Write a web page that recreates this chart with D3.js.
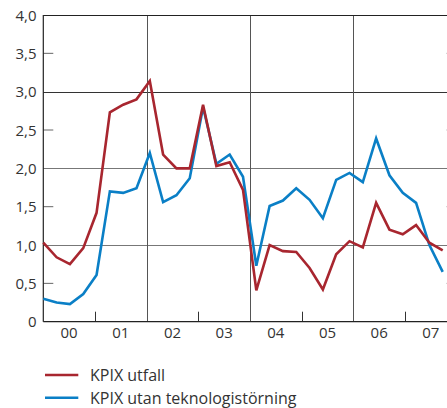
<!DOCTYPE html>
<html><head><meta charset="utf-8">
<script src="https://cdn.jsdelivr.net/npm/d3@7"></script>
<style>
html,body{margin:0;padding:0;background:#fff;}
svg{display:block;}
text{font-family:"Open Sans",sans-serif;fill:#333;}
</style></head>
<body>
<script>
const quarters = [];
for (let y = 2000; y <= 2007; y++) for (let q = 1; q <= 4; q++) if (quarters.length < 31) quarters.push(y + "Q" + q);
const years = ["00","01","02","03","04","05","06","07"];
const yTicks = [0,0.5,1,1.5,2,2.5,3,3.5,4];
const kpixUtfall = [1.03,0.84,0.75,0.96,1.42,2.73,2.83,2.90,3.14,2.18,2.00,2.00,2.83,2.03,2.08,1.72,0.41,1.00,0.92,0.91,0.70,0.42,0.88,1.05,0.97,1.55,1.20,1.14,1.26,1.03,0.93];
const kpixUtanTekn = [0.30,0.25,0.23,0.36,0.61,1.70,1.68,1.74,2.20,1.56,1.65,1.87,2.80,2.06,2.18,1.89,0.73,1.51,1.58,1.74,1.59,1.35,1.85,1.94,1.82,2.39,1.91,1.68,1.55,1.00,0.65];
const seriesNames = ["KPIX utfall","KPIX utan teknologistörning"];
const colors = ["#a8262f","#0a7fc6"];

(function(){
const W = 447, H = 408;
const pL = 43.3, pR = 456.7, pT = 15, pB = 321.7;
const svg = d3.select("body").append("svg").attr("width", W).attr("height", H);

const yScale = d3.scaleLinear().domain([0,4]).range([pB, pT]);
const xYear = d3.scaleBand().domain(years).range([pL, pR]);
const xQ = d3.scalePoint().domain(quarters).range([pL, 442.7]);

const g = svg.append("g");
yTicks.filter(v => v % 1 !== 0).forEach(v => {
  g.append("line").attr("x1", pL).attr("x2", pL + 10).attr("y1", yScale(v)).attr("y2", yScale(v)).attr("stroke", "#666").attr("stroke-width", 1);
  g.append("line").attr("x1", pR - 10).attr("x2", pR).attr("y1", yScale(v)).attr("y2", yScale(v)).attr("stroke", "#666").attr("stroke-width", 1);
});
yTicks.filter(v => v % 1 === 0 && v > 0 && v < 4).forEach(v => {
  const yy = Math.round(yScale(v)) + 0.5;
  g.append("line").attr("x1", pL).attr("x2", pR).attr("y1", yy).attr("y2", yy)
    .attr("stroke", v === 3 ? "#333" : "#777").attr("stroke-width", 1);
});
years.forEach((y, i) => {
  if (i === 0) return;
  const x = Math.round(xYear(y)) + 0.5;
  if (i % 2 === 0) {
    g.append("line").attr("x1", x).attr("x2", x).attr("y1", pT).attr("y2", pB).attr("stroke", "#555").attr("stroke-width", 1);
  } else {
    g.append("line").attr("x1", x).attr("x2", x).attr("y1", pB - 10).attr("y2", pB).attr("stroke", "#333").attr("stroke-width", 1);
  }
});
g.append("line").attr("x1", pL).attr("x2", pR).attr("y1", Math.round(pT) + 0.5).attr("y2", Math.round(pT) + 0.5).attr("stroke", "#222").attr("stroke-width", 1.2);
g.append("line").attr("x1", pL).attr("x2", pR).attr("y1", pB).attr("y2", pB).attr("stroke", "#222").attr("stroke-width", 1.2);
g.append("line").attr("x1", pL).attr("x2", pL).attr("y1", pT).attr("y2", pB).attr("stroke", "#222").attr("stroke-width", 1.2);

yTicks.forEach(v => {
  svg.append("text").attr("x", 36.5).attr("y", yScale(v)).attr("dy", "0.38em").attr("text-anchor", "end")
    .style("font-size", "15px").text(v === 0 ? "0" : d3.format(".1f")(v).replace(".", ","));
});
years.forEach(y => {
  svg.append("text").attr("x", xYear(y) + xYear.bandwidth() / 2).attr("y", 338).attr("text-anchor", "middle")
    .style("font-size", "15px").text(y);
});

const line = d3.line().x((d, i) => xQ(quarters[i])).y(d => yScale(d));
[kpixUtanTekn, kpixUtfall].forEach((s) => {
  const k = s === kpixUtfall ? 0 : 1;
  svg.append("path").datum(s).attr("d", line).attr("fill", "none").attr("stroke", colors[k])
    .attr("stroke-width", 2.6).attr("stroke-linejoin", "miter");
});

const ly = [375, 397.8];
seriesNames.forEach((n, k) => {
  svg.append("line").attr("x1", 45).attr("x2", 78.3).attr("y1", ly[k]).attr("y2", ly[k]).attr("stroke", colors[k]).attr("stroke-width", 2.4);
  svg.append("text").attr("x", 90).attr("y", ly[k] + 6.2).style("font-size", "16px").text(n);
});
})();
</script>
</body></html>
